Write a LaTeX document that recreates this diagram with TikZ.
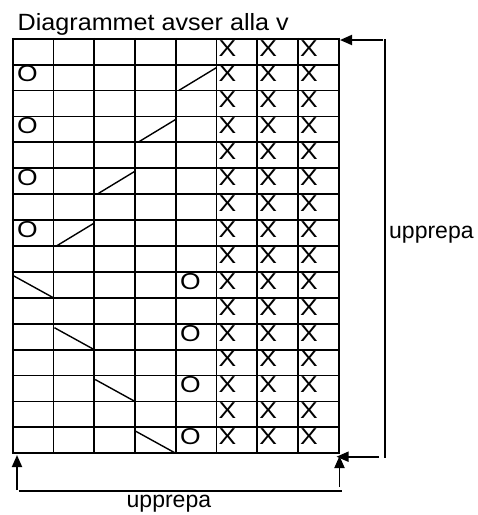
\documentclass[tikz,border=0pt]{standalone}
\usepackage{fontspec}
\setmainfont{Liberation Sans}
\newfontfamily\symfont{Liberation Sans}[FakeStretch=1.15]
\newfontfamily\titlefont{Liberation Sans}[FakeStretch=1.07]
\usetikzlibrary{arrows.meta}
\begin{document}
\begin{tikzpicture}[x=1pt,y=-1pt,
  gridline/.style={line width=1.8pt},
  diag/.style={line width=1.4pt},
  sym/.style={anchor=base west,inner sep=0pt,font=\symfont\fontsize{23}{26}\selectfont},
  lbl/.style={anchor=base west,inner sep=0pt,font=\fontsize{23}{26}\selectfont},
  ttl/.style={anchor=base west,inner sep=0pt,font=\titlefont\fontsize{23.5}{26}\selectfont},
  arr/.style={line width=1.8pt,-{Triangle[length=12pt,width=10pt]}},
  plain/.style={line width=1.8pt}]
\useasboundingbox (0,0) rectangle (478,515);
\def\L{12.7}\def\T{38.7}\def\W{40.75}\def\H{25.91}
% grid
\foreach \i in {0,...,8} \draw[gridline] (\L+\i*\W,\T-0.9) -- (\L+\i*\W,\T+16*\H+0.9);
\foreach \j in {0,...,16} \draw[gridline] (\L-0.9,\T+\j*\H) -- (\L+8*\W+0.9,\T+\j*\H);
% X marks
\foreach \r in {1,...,16}
  \foreach \c in {6,7,8}
    \node[sym] (x\r-\c) at (\L+\c*\W-\W+2,\T+\r*\H-\H+17.3) {X};
% O marks and diagonals (upper part)
\foreach \r/\c in {2/5,4/4,6/3,8/2}{
  \node[sym] (o\r) at (\L+4.2,\T+\r*\H-\H+17.3) {O};
  \draw[diag] (\L+\c*\W-\W+3,\T+\r*\H) -- (\L+\c*\W,\T+\r*\H-\H+3);
}
% O marks and diagonals (lower part)
\foreach \r/\c in {10/1,12/2,14/3,16/4}{
  \node[sym] (o\r) at (\L+4*\W+4.2,\T+\r*\H-\H+17.3) {O};
  \draw[diag] (\L+\c*\W-\W+1,\T+\r*\H-\H+4) -- (\L+\c*\W,\T+\r*\H);
}
% labels
\node[ttl] (title) at (17.5,30.5) {Diagrammet avser alla v};
\node[lbl] (rlab) at (389,238.5) {upprepa};
\node[lbl] (blab) at (126.5,507.5) {upprepa};
% arrows
\coordinate (tr0) at (383,40);
\coordinate (tr1) at (340,40);
\coordinate (rv0) at (384.7,39.1);
\coordinate (rv1) at (384.7,457.6);
\coordinate (br0) at (379,456.7);
\coordinate (br1) at (336.5,456.7);
\coordinate (lv0) at (17,490);
\coordinate (lv1) at (17,455);
\coordinate (bh0) at (18.5,491);
\coordinate (bh1) at (342,491);
\coordinate (rb0) at (339.5,487);
\coordinate (rb1) at (339.5,456);
\draw[arr] (tr0) -- (tr1);
\draw[plain] (rv0) -- (rv1);
\draw[arr] (br0) -- (br1);
\draw[arr] (lv0) -- (lv1);
\draw[plain] (bh0) -- (bh1);
\draw[arr] (rb0) -- (rb1);
\end{tikzpicture}
\end{document}
